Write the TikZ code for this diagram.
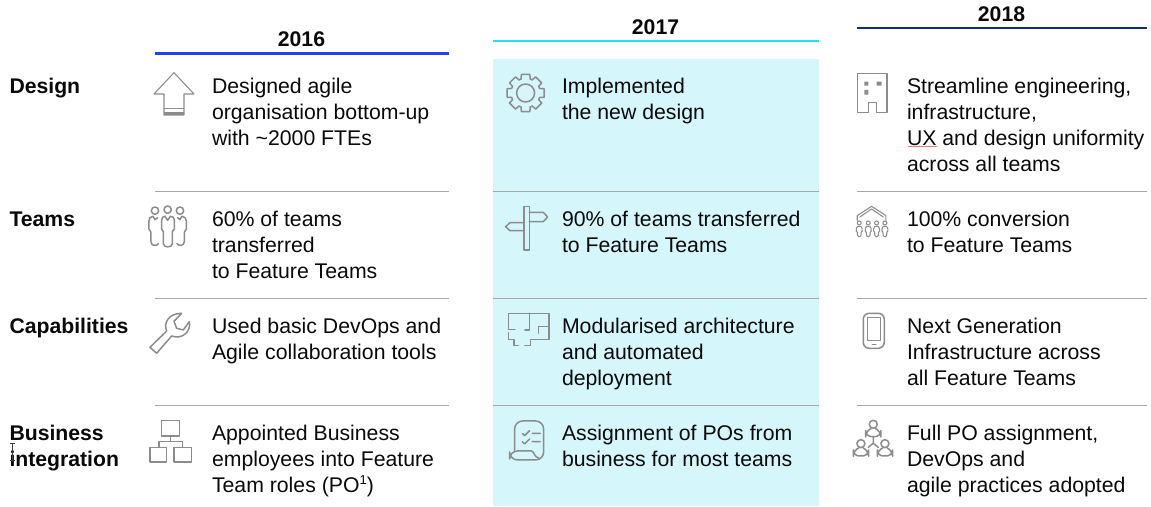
\documentclass[tikz,border=0pt]{standalone}
\usepackage{fontspec}
\setmainfont{Liberation Sans}
\definecolor{icongray}{HTML}{8C8C8C}
\definecolor{rulegray}{HTML}{A8A8A8}
\definecolor{panel}{HTML}{D5F6FA}
\definecolor{blueline}{HTML}{1F45E8}
\definecolor{cyanline}{HTML}{2EE0E8}
\definecolor{navyline}{HTML}{0B2F78}
\definecolor{txt}{HTML}{0A0A0A}
\newcommand\ML[1]{\vtop{\baselineskip=25.9pt\lineskiplimit=-20pt #1}}
\newcommand\Ln[1]{\hbox{#1}}
\tikzset{
  body/.style={anchor=base west,inner sep=0pt,outer sep=0pt,text=txt,font=\fontsize{21.25}{25.9}\selectfont},
  rowhead/.style={body,font=\fontsize{21.2}{25.9}\selectfont\bfseries},
  yearhead/.style={anchor=base,inner sep=0pt,outer sep=0pt,text=txt,font=\fontsize{21.2}{25.9}\selectfont\bfseries},
  yearrule/.style={line width=2.8pt},
  rowrule/.style={rulegray,line width=1.3pt},
  icon/.style={icongray,line width=1.5pt,line join=round,line cap=round},
  iconthin/.style={icongray,line width=1.05pt,line join=round,line cap=round},
  zoomed/.style={x=0.3333pt,y=-0.3333pt}
}
\begin{document}
\begin{tikzpicture}[x=1pt,y=-1pt]
\useasboundingbox (0,0) rectangle (1151,506);
\fill[white] (0,0) rectangle (1151,506);
\fill[panel] (493,59) rectangle (819,506);

% year rules
\draw[yearrule,blueline] (155,53.3) -- (448.5,53.3);
\draw[yearrule,cyanline] (493,41) -- (819,41);
\draw[yearrule,navyline] (857,28) -- (1146.5,28);
% row rules
\foreach \yy in {191.5,298.5,405.5}{
  \draw[rowrule] (155,\yy) -- (448.5,\yy);
  \draw[rowrule] (493,\yy) -- (819,\yy);
  \draw[rowrule] (857,\yy) -- (1146.5,\yy);
}

% headers
\node[yearhead] (y16) at (301.5,46) {2016};
\node[yearhead] (y17) at (655.5,34) {2017};
\node[yearhead] (y18) at (1001.5,21.2) {2018};

% row labels
\node[rowhead] (rDesign) at (9.5,93.8) {Design};
\node[rowhead] (rTeams) at (9.5,226.8) {Teams};
\node[rowhead] (rCap) at (9.5,333.6) {Capabilities};
\node[rowhead] (rBiz) at (9.5,440.6) {\ML{\Ln{Business}\Ln{integration}}};

% text 2016
\node[body] (a1) at (212,93.8) {\ML{\Ln{Designed agile}\Ln{organisation bottom-up}\Ln{with \char"7E 2000 FTEs}}};
\node[body] (a2) at (212,226.8) {\ML{\Ln{60\% of teams}\Ln{transferred}\Ln{to Feature Teams}}};
\node[body] (a3) at (212,333.6) {\ML{\Ln{Used basic DevOps and}\Ln{Agile collaboration tools}}};
\node[body] (a4) at (212,440.6) {\ML{\Ln{Appointed Business}\Ln{employees into Feature}\Ln{Team roles (PO\raisebox{0.36em}{\fontsize{13}{14}\selectfont 1})}}};
% text 2017
\node[body] (b1) at (562,93.8) {\ML{\Ln{Implemented}\Ln{the new design}}};
\node[body] (b2) at (562,226.8) {\ML{\Ln{90\% of teams transferred}\Ln{to Feature Teams}}};
\node[body] (b3) at (562,333.6) {\ML{\Ln{Modularised architecture}\Ln{and automated}\Ln{deployment}}};
\node[body] (b4) at (562,440.6) {\ML{\Ln{Assignment of POs from}\Ln{business for most teams}}};
% text 2018
\node[body] (c1) at (907,93.8) {\ML{\Ln{Streamline engineering,}\Ln{infrastructure,}\Ln{UX and design uniformity}\Ln{across all teams}}};
\node[body] (c2) at (907,226.8) {\ML{\Ln{100\% conversion}\Ln{to Feature Teams}}};
\node[body] (c3) at (907,333.6) {\ML{\Ln{Next Generation}\Ln{Infrastructure across}\Ln{all Feature Teams}}};
\node[body] (c4) at (907,440.6) {\ML{\Ln{Full PO assignment,}\Ln{DevOps and}\Ln{agile practices adopted}}};

% spell-check underline under UX
\draw[red!55!white,line width=0.6pt] (907.5,146.3) -- (937,146.3);

% mouse cursor over "integration"
\draw[black!75,line width=0.7pt] (9.5,443.5) -- (15,443.5) (12.2,443.5) -- (12.2,460) (9.5,460) -- (15,460);

% ---- up arrow ----
\begin{scope}[zoomed]
\draw[iconthin] (522,218) -- (462,282) -- (492,282) -- (492,345) -- (552,345) -- (552,282) -- (582,282) -- cycle;
\draw[iconthin] (492,326) -- (552,326);
\fill[icongray] (492,335) rectangle (552,346);
\end{scope}

% ---- three people (crop origin 145,203) ----
\begin{scope}[zoomed,shift={(435,609)}]
\draw[icon] (30,23) circle (11) (68,20) circle (11) (105,23) circle (11);
\draw[icon] (60,40) -- (68,52) -- (76,40) .. controls (84,40) and (88,44) .. (88,52) -- (88,78) -- (82,86) -- (82,122) .. controls (82,135) and (55,135) .. (55,122) -- (55,86) -- (50,78) -- (50,52) .. controls (50,44) and (54,40) .. (60,40) -- cycle;
\draw[icon] (24,40) -- (30,50) -- (38,44);
\draw[icon] (24,40) .. controls (16,40) and (12,46) .. (12,54) -- (12,78) -- (18,88) -- (18,116) .. controls (18,130) and (36,130) .. (40,122);
\draw[icon] (111,40) -- (105,50) -- (98,44);
\draw[icon] (111,40) .. controls (119,40) and (124,46) .. (124,54) -- (124,78) -- (118,88) -- (118,116) .. controls (118,130) and (100,130) .. (96,122);
\end{scope}

% ---- wrench and org chart (crop origin 0,260) ----
\begin{scope}[zoomed,shift={(0,780)}]
\draw[icon] (450,262) -- (500,213) .. controls (490,190) and (505,160) .. (545,160) -- (522,184) -- (530,205) -- (550,210) -- (568,185) .. controls (575,215) and (545,240) .. (515,228) -- (470,280) -- cycle;
\draw[icon] (484,482) rectangle (538,528);
\draw[icon] (450,562) rectangle (500,606);
\draw[icon] (522,562) rectangle (575,606);
\draw[iconthin] (511,528) -- (511,545) (477,562) -- (477,545) -- (547,545) -- (547,562);
\end{scope}

% ---- gear (crop origin 503,68) ----
\begin{scope}[zoomed,shift={(1509,204)}]
\begin{scope}[shift={(68,75)}]
\draw[icon] (0,0) circle (27);
\draw[icon] (-18:44) \foreach \a in {0,45,...,315}{ -- (\a-13:57) -- (\a+13:57) -- (\a+18:44) -- (\a+27:44) } -- cycle;
\end{scope}
\end{scope}

% ---- signpost (crop origin 490,0) ----
\begin{scope}[zoomed,shift={(1470,0)}]
\draw[icon] (102,620) rectangle (118,750);
\draw[icon] (118,637) -- (160,637) -- (173,651) -- (160,665) -- (118,665);
\draw[icon] (102,668) -- (60,668) -- (47,680) -- (60,692) -- (102,692);
\end{scope}

% ---- floor plan (crop origin 490,260) ----
\begin{scope}[zoomed,shift={(1470,780)}]
\draw[icon] (55,205) -- (55,160) -- (177,160) -- (177,238) -- (122,238) -- (122,257) -- (105,257);
\draw[icon] (55,218) -- (55,238) -- (72,238) -- (72,257) -- (85,257);
\draw[icon] (118,160) -- (118,208);
\draw[icon] (55,208) -- (75,208);
\draw[icon] (105,210) -- (118,210);
\draw[icon] (145,220) -- (145,200) -- (177,200);
\end{scope}

% ---- checklist (crop origin 503,415) ----
\begin{scope}[zoomed,shift={(1509,1245)}]
\draw[icon,rounded corners=8] (35,105) -- (35,18) -- (122,18) -- (122,135) -- (20,135) -- (20,108) -- (85,108);
\draw[icon] (85,108) .. controls (95,110) and (92,125) .. (108,130);
\draw[icon] (58,55) -- (65,62) -- (80,47) (88,55) -- (112,55);
\draw[icon] (58,80) -- (65,87) -- (80,72) (88,80) -- (112,80);
\end{scope}

% ---- building (crop origin 840,0) ----
\begin{scope}[zoomed,shift={(2520,0)}]
\draw[icon] (52,220) -- (142,220) -- (142,337) -- (110,337) -- (110,308) -- (85,308) -- (85,337) -- (52,337) -- cycle;
\fill[icongray] (73,245) rectangle (85,257) (110,245) rectangle (125,257) (73,270) rectangle (85,284);
\end{scope}

% ---- roof with people (crop origin 850,203) ----
\begin{scope}[zoomed,shift={(2550,609)}]
\draw[iconthin] (22,52) -- (22,38) -- (65,10) -- (108,38) -- (108,52);
\draw[iconthin] (30,42) -- (65,18) -- (100,42);
\foreach \px in {28,55,80,105}{
  \draw[iconthin] (\px,60) circle (6);
  \draw[iconthin] (\px-5,70) .. controls (\px-9,72) and (\px-9,80) .. (\px-9,84) -- (\px-6,88) -- (\px-5,98) .. controls (\px-3,103) and (\px+3,103) .. (\px+5,98) -- (\px+6,88) -- (\px+9,84) .. controls (\px+9,80) and (\px+9,72) .. (\px+5,70) -- cycle;
}
\end{scope}

% ---- phone (crop origin 840,260) ----
\begin{scope}[zoomed,shift={(2520,780)}]
\draw[icon,rounded corners=6] (70,160) rectangle (133,265);
\draw[iconthin] (83,172) rectangle (122,243);
\draw[icon] (97,253) -- (108,253);
\end{scope}

% ---- people network (crop origin 850,415) ----
\begin{scope}[zoomed,shift={(2550,1245)}]
\foreach \hx/\hy in {70/28,33/86,105/86}{
  \draw[icon] (\hx,\hy) circle (12);
  \draw[icon,rounded corners=6] (\hx-7,\hy+13) -- (\hx-23,\hy+20) -- (\hx-23,\hy+37) -- (\hx+23,\hy+37) -- (\hx+23,\hy+20) -- (\hx+7,\hy+13);
}
\draw[icon] (70,65) -- (70,85) (55,97) -- (70,85) -- (85,97);
\end{scope}
\end{tikzpicture}
\end{document}
